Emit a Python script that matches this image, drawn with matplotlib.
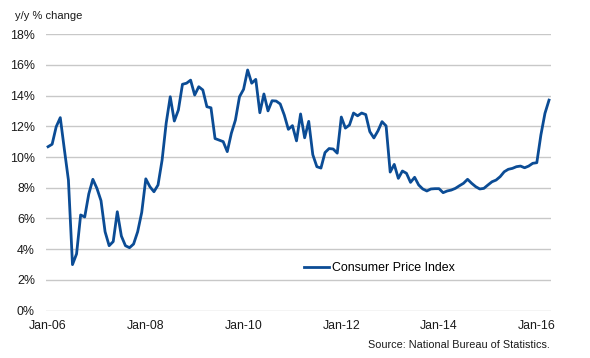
import matplotlib
matplotlib.use("Agg")
import matplotlib.pyplot as plt

plt.rcParams['font.family'] = ['Liberation Sans', 'DejaVu Sans']

# monthly CPI y/y % change, Jan-06 .. Apr-16
cpi = [
    10.67, 10.83, 11.97, 12.56, 10.5, 8.5, 3.0, 3.7, 6.23, 6.1, 7.6, 8.55,
    7.96, 7.16, 5.14, 4.23, 4.5, 6.44, 4.86, 4.23, 4.1, 4.34, 5.14, 6.4,
    8.58, 8.07, 7.74, 8.18, 9.8, 12.2, 13.92, 12.34, 13.06, 14.73, 14.8, 15.0,
    14.03, 14.57, 14.36, 13.27, 13.2, 11.2, 11.1, 11.0, 10.35, 11.54, 12.4, 13.92,
    14.4, 15.66, 14.8, 15.05, 12.88, 14.1, 13.0, 13.66, 13.64, 13.45, 12.73, 11.8,
    12.04, 11.05, 12.8, 11.25, 12.32, 10.15, 9.37, 9.28, 10.29, 10.55, 10.52, 10.25,
    12.6, 11.88, 12.08, 12.86, 12.68, 12.86, 12.76, 11.65, 11.24, 11.7, 12.3, 12.02,
    9.02, 9.52, 8.61, 9.09, 8.94, 8.35, 8.68, 8.18, 7.92, 7.79, 7.92, 7.94,
    7.94, 7.68, 7.79, 7.85, 7.96, 8.13, 8.29, 8.55, 8.29, 8.07, 7.92, 7.96,
    8.18, 8.39, 8.5, 8.72, 9.04, 9.2, 9.26, 9.37, 9.41, 9.3, 9.41, 9.59,
    9.63, 11.43, 12.84, 13.7,
]
months = list(range(len(cpi)))
tick_pos = [0, 24, 48, 72, 96, 120]
tick_labels = ['Jan-06', 'Jan-08', 'Jan-10', 'Jan-12', 'Jan-14', 'Jan-16']
y_ticks = [0, 2, 4, 6, 8, 10, 12, 14, 16, 18]

fig = plt.figure(figsize=(5.9, 3.58), dpi=100)
ax = fig.add_axes([0.078, 0.132, 0.856, 0.773])

ax.plot(months, cpi, color='#0b4c95', linewidth=2.0, label='Consumer Price Index')

ax.set_xlim(-0.5, 123.5)
ax.set_ylim(0, 18)
ax.set_yticks(y_ticks)
ax.set_yticklabels([f'{v}%' for v in y_ticks])
ax.set_xticks(tick_pos)
ax.set_xticklabels(tick_labels)
ax.tick_params(axis='both', length=0, labelsize=8.9, colors='#1a1a1a')
ax.tick_params(axis='y', pad=8)
ax.tick_params(axis='x', pad=7)
ax.grid(axis='y', color='#c8c8c8', linewidth=1.0)
ax.set_axisbelow(True)
for s in ax.spines.values():
    s.set_visible(False)

leg = ax.legend(loc='center', bbox_to_anchor=(0.66, 0.155), frameon=False,
                fontsize=8.9, handlelength=2.0, handletextpad=0.2)

fig.text(0.025, 0.955, 'y/y % change', fontsize=8, color='#1a1a1a', va='center')
fig.text(0.932, 0.035, 'Source: National Bureau of Statistics.', fontsize=7.85,
         color='#1a1a1a', ha='right', va='center')

fig.savefig('out.png', dpi=100)
